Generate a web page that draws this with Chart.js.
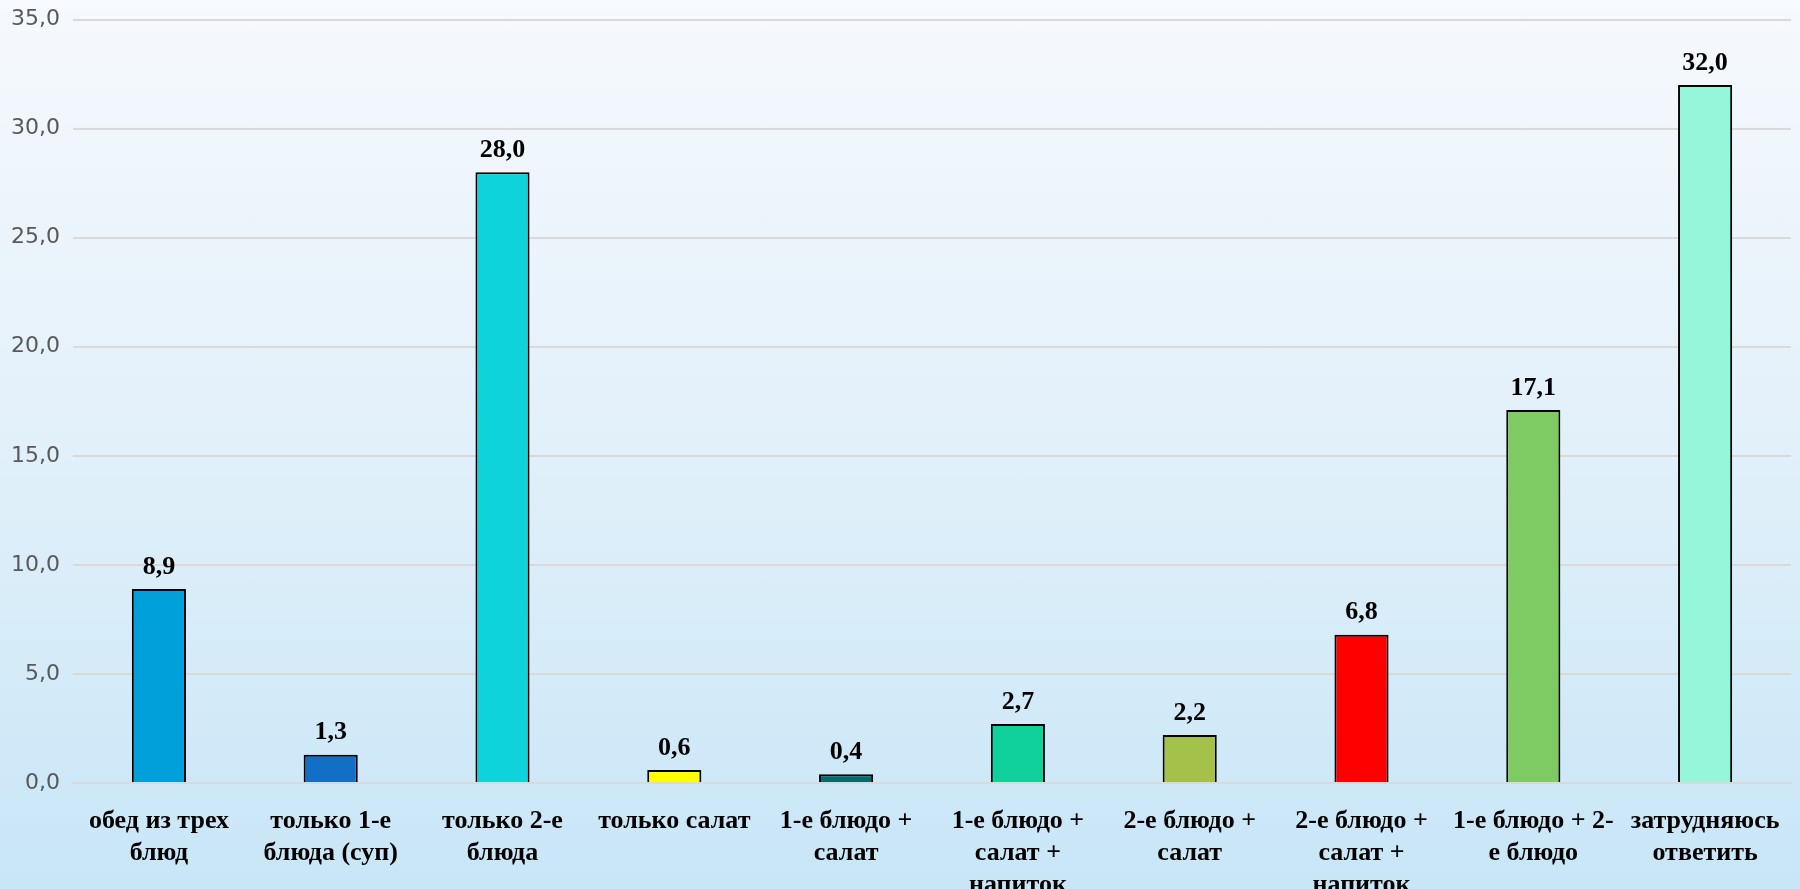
<!DOCTYPE html>
<html>
<head>
<meta charset="utf-8">
<script src="https://cdn.jsdelivr.net/npm/chart.js@4/dist/chart.umd.min.js"></script>
<style>
  html, body { margin: 0; padding: 0; }
  body {
    width: 1800px; height: 889px; overflow: hidden;
    background: linear-gradient(to bottom, #f6f9fd 0%, #e4f1fa 45%, #c8e6f7 100%);
  }
  canvas { display: block; }
</style>
</head>
<body>
<canvas id="chart" width="1800" height="889"></canvas>
<script>
const categories = [
  ["обед из трех", "блюд"],
  ["только 1-е", "блюда (суп)"],
  ["только 2-е", "блюда"],
  ["только салат"],
  ["1-е блюдо +", "салат"],
  ["1-е блюдо +", "салат +", "напиток"],
  ["2-е блюдо +", "салат"],
  ["2-е блюдо +", "салат +", "напиток"],
  ["1-е блюдо + 2-", "е блюдо"],
  ["затрудняюсь", "ответить"]
];
const values = [8.9, 1.3, 28.0, 0.6, 0.4, 2.7, 2.2, 6.8, 17.1, 32.0];
const barColors = ["#00a0da", "#1170c6", "#0fd3db", "#ffff00", "#076b6d",
                   "#10d19b", "#a4c24a", "#ff0000", "#7dcb62", "#96f6da"];

const fmt = v => Number(v).toFixed(1).replace('.', ',');

// draws the value above each bar
const valueLabels = {
  id: 'valueLabels',
  afterDatasetsDraw(chart) {
    const ctx = chart.ctx;
    const meta = chart.getDatasetMeta(0);
    ctx.save();
    ctx.font = 'bold 26px "Liberation Serif", "Times New Roman", serif';
    ctx.fillStyle = '#000';
    ctx.textAlign = 'center';
    ctx.textBaseline = 'bottom';
    meta.data.forEach((bar, i) => {
      ctx.fillText(fmt(values[i]), bar.x, bar.y - 9);
    });
    ctx.restore();
  }
};

new Chart(document.getElementById('chart'), {
  type: 'bar',
  data: {
    labels: categories,
    datasets: [{
      data: values,
      backgroundColor: barColors,
      borderColor: '#000',
      borderWidth: 2,
      borderSkipped: 'bottom',
      barPercentage: 0.315,
      categoryPercentage: 1
    }]
  },
  options: {
    responsive: false,
    animation: false,
    devicePixelRatio: 1,
    layout: { padding: { top: 0, right: 9, left: 0, bottom: 0 } },
    plugins: { legend: { display: false }, tooltip: { enabled: false } },
    scales: {
      x: {
        grid: { display: false },
        border: { display: true, color: '#d9d9d9', width: 2 },
        ticks: {
          color: '#000',
          font: { family: '"Liberation Serif", "Times New Roman", serif', size: 26, weight: 'bold', lineHeight: 1.23 },
          maxRotation: 0, minRotation: 0, autoSkip: false, padding: 14
        },
        afterFit(scale) { scale.height = 106; }
      },
      y: {
        min: 0, max: 35,
        ticks: {
          stepSize: 5,
          color: '#595959',
          font: { family: '"DejaVu Sans", sans-serif', size: 22, lineHeight: 0.6 },
          padding: 13,
          callback: v => fmt(v)
        },
        grid: { color: '#d9d9d9', lineWidth: 2, drawTicks: false },
        border: { display: false },
        afterFit(scale) { scale.width = 73; }
      }
    }
  },
  plugins: [valueLabels]
});
</script>
</body>
</html>
